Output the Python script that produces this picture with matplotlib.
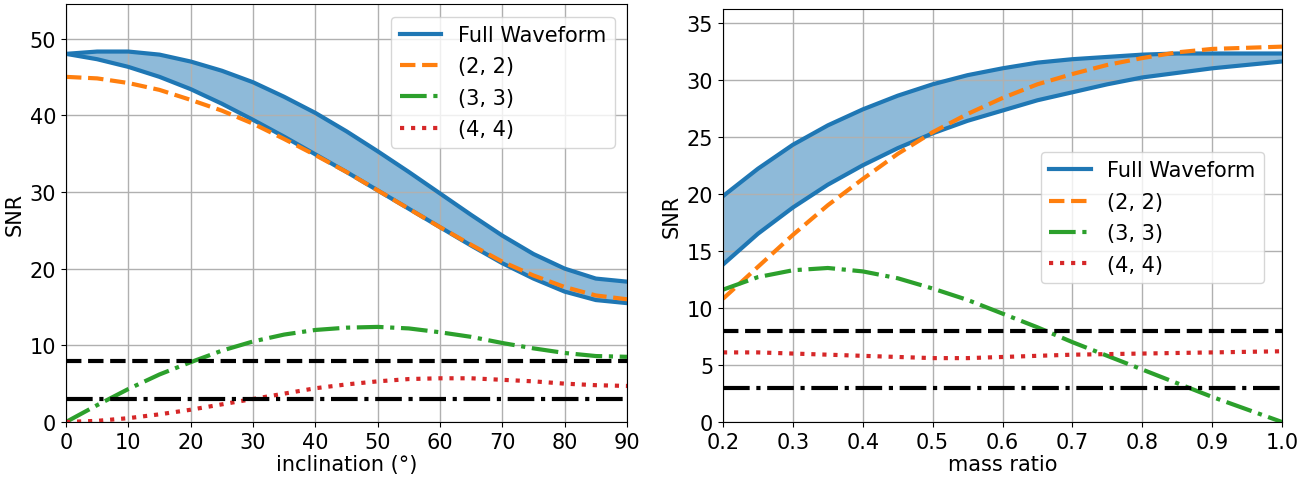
import matplotlib
matplotlib.use("Agg")
import matplotlib.pyplot as plt
import numpy as np

# ---- left panel: inclination ----
incl = [0, 5, 10, 15, 20, 25, 30, 35, 40, 45, 50, 55, 60, 65, 70, 75, 80, 85, 90]
incl_full_upper = [48.0, 48.3, 48.3, 47.9, 47.0, 45.8, 44.3, 42.4, 40.3, 37.9, 35.3, 32.6,
                   29.8, 27.0, 24.3, 21.9, 20.0, 18.7, 18.3]
incl_full_lower = [48.0, 47.3, 46.3, 45.0, 43.4, 41.5, 39.4, 37.2, 34.9, 32.6, 30.2, 27.8,
                   25.4, 23.0, 20.7, 18.7, 17.0, 15.9, 15.5]
incl_22 = [45.0, 44.8, 44.2, 43.3, 42.0, 40.6, 38.9, 36.9, 34.8, 32.6, 30.2, 27.8,
           25.4, 23.1, 20.9, 19.1, 17.6, 16.5, 16.0]
incl_33 = [0.0, 2.2, 4.3, 6.2, 7.8, 9.3, 10.5, 11.4, 12.0, 12.3, 12.4, 12.2,
           11.7, 11.1, 10.3, 9.6, 9.0, 8.6, 8.5]
incl_44 = [0.0, 0.15, 0.5, 1.0, 1.6, 2.3, 3.0, 3.7, 4.4, 4.9, 5.3, 5.6,
           5.7, 5.7, 5.5, 5.3, 5.0, 4.8, 4.7]
incl_ticks = [0, 10, 20, 30, 40, 50, 60, 70, 80, 90]

# ---- right panel: mass ratio ----
q = [0.2, 0.25, 0.3, 0.35, 0.4, 0.45, 0.5, 0.55, 0.6, 0.65, 0.7, 0.75, 0.8, 0.85, 0.9, 0.95, 1.0]
q_full_upper = [19.8, 22.2, 24.3, 26.0, 27.4, 28.6, 29.6, 30.4, 31.0, 31.5, 31.8, 32.0,
                32.2, 32.3, 32.3, 32.3, 32.3]
q_full_lower = [13.8, 16.5, 18.8, 20.8, 22.5, 24.0, 25.3, 26.4, 27.3, 28.2, 28.9, 29.6,
                30.2, 30.6, 31.0, 31.3, 31.6]
q_22 = [10.8, 13.6, 16.4, 19.0, 21.3, 23.5, 25.4, 27.0, 28.4, 29.6, 30.5, 31.3,
        31.9, 32.4, 32.7, 32.8, 32.9]
q_33 = [11.6, 12.7, 13.3, 13.5, 13.2, 12.6, 11.7, 10.7, 9.5, 8.3, 7.0, 5.8,
        4.6, 3.4, 2.2, 1.1, 0.0]
q_44 = [6.1, 6.1, 6.0, 5.9, 5.8, 5.7, 5.6, 5.6, 5.7, 5.8, 5.9, 5.95,
        6.0, 6.05, 6.1, 6.15, 6.2]
q_ticks = [0.2, 0.3, 0.4, 0.5, 0.6, 0.7, 0.8, 0.9, 1.0]

thresholds = [8, 3]
threshold_styles = ["--", "-."]

FS = 15
plt.rcParams["font.family"] = ["DejaVu Sans"]
plt.rcParams["font.size"] = FS

fig = plt.figure(figsize=(13.04, 4.81), dpi=100)
ax1 = fig.add_axes([66/1304, 1-423/481, (627-66)/1304, (423-5)/481])
ax2 = fig.add_axes([723/1304, 1-423/481, (1282-723)/1304, (423-10)/481])

def panel(ax, x, up, lo, m22, m33, m44, xlim, ylim, xlabel, loc, anchor=None):
    ax.fill_between(x, lo, up, color="C0", alpha=0.5, lw=0)
    ax.plot(x, up, color="C0", lw=3, label="Full Waveform", solid_joinstyle="round")
    ax.plot(x, lo, color="C0", lw=3, solid_joinstyle="round")
    ax.plot(x, m22, color="C1", lw=3, ls="--", label="(2, 2)")
    ax.plot(x, m33, color="C2", lw=3, ls="-.", label="(3, 3)")
    ax.plot(x, m44, color="C3", lw=3, ls=":", label="(4, 4)")
    for t, s in zip(thresholds, threshold_styles):
        ax.axhline(t, color="black", lw=3, ls=s)
    ax.set_xlim(*xlim)
    ax.set_ylim(*ylim)
    ax.grid(True, color="#b0b0b0", lw=1)
    ax.set_xlabel(xlabel, fontsize=FS, labelpad=2)
    ax.set_ylabel("SNR", fontsize=FS)
    ax.tick_params(labelsize=FS)
    kw = dict(fontsize=FS, handlelength=2.0, labelspacing=0.55, borderaxespad=0.6)
    if anchor is None:
        ax.legend(loc=loc, **kw)
    else:
        ax.legend(loc=loc, bbox_to_anchor=anchor, **kw)

panel(ax1, incl, incl_full_upper, incl_full_lower, incl_22, incl_33, incl_44,
      (0, 90), (0, 54.5), "inclination (°)", "upper right")
ax1.set_xticks(incl_ticks)
ax1.set_yticks([0, 10, 20, 30, 40, 50])
panel(ax2, q, q_full_upper, q_full_lower, q_22, q_33, q_44,
      (0.2, 1.0), (0, 36.2), "mass ratio", "center right", (0.99, 0.495))
ax2.set_xticks(q_ticks)
ax2.set_yticks([0, 5, 10, 15, 20, 25, 30, 35])

fig.savefig("out.png", dpi=100)
